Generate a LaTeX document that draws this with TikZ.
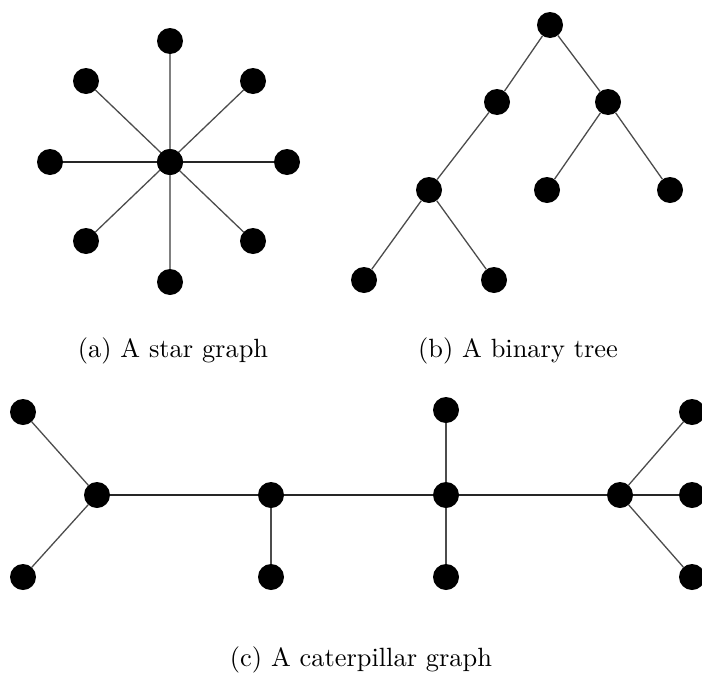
\documentclass[tikz,border=0pt]{standalone}
\begin{document}
\begin{tikzpicture}[x=1pt,y=-1pt,
  vtx/.style={circle,fill=black,inner sep=0pt,minimum size=26pt},
  edge/.style={draw=black!70,line width=1.3pt},
  hedge/.style={draw=black!85,line width=1.3pt},
  vedge/.style={draw=black!50,line width=2.2pt},
  captxt/.style={scale=2.64,font=\fontsize{10}{12}\selectfont}]
\useasboundingbox (0,0) rectangle (702,675);
% (a) star graph
\node[vtx] (c) at (170,162) {};
\node[vtx] (s1) at (170,41) {};
\node[vtx] (s2) at (253,81) {};
\node[vtx] (s3) at (287,162) {};
\node[vtx] (s4) at (253,241) {};
\node[vtx] (s5) at (170,282) {};
\node[vtx] (s6) at (86,241) {};
\node[vtx] (s7) at (50,162) {};
\node[vtx] (s8) at (86,81) {};
\draw[vedge] (s1) -- (s5);
\draw[hedge] (s7) -- (s3);
\draw[edge] (s8) -- (s4);
\draw[edge] (s2) -- (s6);
\node[vtx] at (c) {};
% (b) binary tree
\node[vtx] (r) at (550,25) {};
\node[vtx] (a1) at (497,102) {};
\node[vtx] (a2) at (608,102) {};
\node[vtx] (b1) at (429,190) {};
\node[vtx] (b2) at (547,190) {};
\node[vtx] (b3) at (670,190) {};
\node[vtx] (d1) at (364,280) {};
\node[vtx] (d2) at (494,280) {};
\draw[edge] (r) -- (a1);
\draw[edge] (r) -- (a2);
\draw[edge] (a1) -- (b1);
\draw[edge] (a2) -- (b2);
\draw[edge] (a2) -- (b3);
\draw[edge] (b1) -- (d1);
\draw[edge] (b1) -- (d2);
% (c) caterpillar
\node[vtx] (p1) at (97,495) {};
\node[vtx] (p2) at (271,495) {};
\node[vtx] (p3) at (446,495) {};
\node[vtx] (p4) at (620,495) {};
\node[vtx] (l1) at (23,412) {};
\node[vtx] (l2) at (23,577) {};
\node[vtx] (l3) at (271,577) {};
\node[vtx] (l4) at (446,410) {};
\node[vtx] (l5) at (446,577) {};
\node[vtx] (l6) at (692,412) {};
\node[vtx] (l7) at (692,495) {};
\node[vtx] (l8) at (692,577) {};
\draw[hedge] (p1) -- (p2) -- (p3) -- (p4) -- (l7);
\draw[edge] (p1) -- (l1);
\draw[edge] (p1) -- (l2);
\draw[edge] (p2) -- (l3);
\draw[edge] (p3) -- (l4);
\draw[edge] (p3) -- (l5);
\draw[edge] (p4) -- (l6);
\draw[edge] (p4) -- (l8);
% captions
\node[captxt] (ca) at (173,351) {(a) A star graph};
\node[captxt] (cb) at (518,351) {(b) A binary tree};
\node[captxt] (cc) at (361,660) {(c) A caterpillar graph};
\end{tikzpicture}
\end{document}
